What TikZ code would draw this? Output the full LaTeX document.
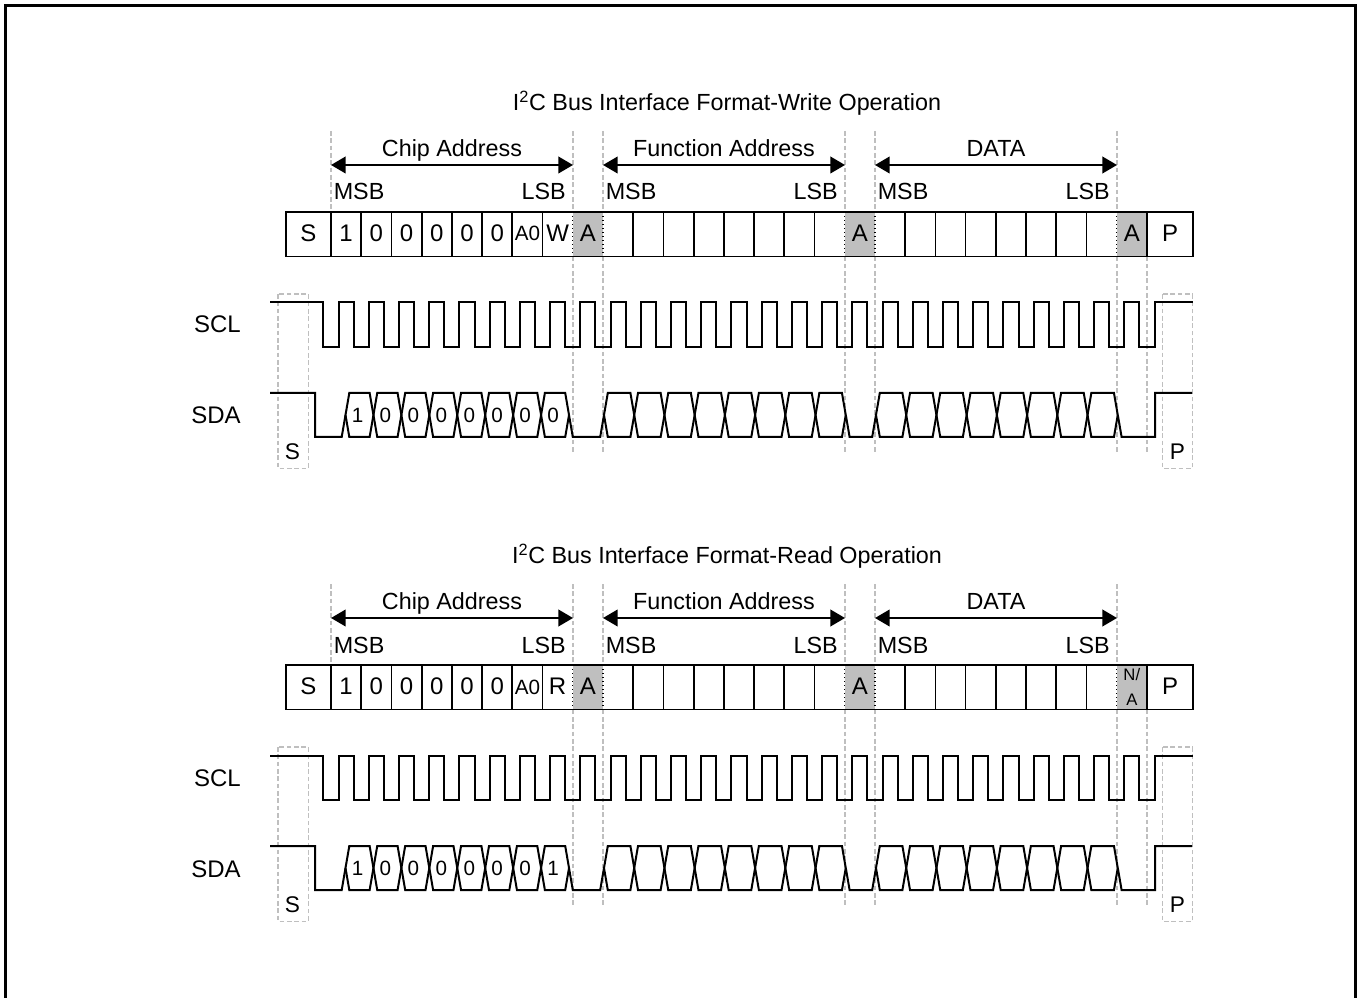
\documentclass[tikz,border=0pt]{standalone}
\usepackage{fontspec}
\setmainfont{Liberation Sans}
\usetikzlibrary{arrows.meta}

\begin{document}
\begin{tikzpicture}
  [x=0.75pt, y=-0.75pt,
  wave/.style={line width=1.5pt},
  regline/.style={line width=1.3pt},
  ackline/.style={line width=1pt, dotted},
  guide/.style={draw=black!25, line width=1pt, dash pattern=on 3.5pt off 2pt},
  ackfill/.style={fill=black!25},
  txt/.style={inner sep=0pt, font=\fontsize{17.5}{21}\selectfont},
  regtext/.style={inner sep=0pt, font=\fontsize{18}{21}\selectfont},
  pintext/.style={inner sep=0pt, font=\fontsize{15.5}{19}\selectfont},
  natext/.style={inner sep=0pt, align=center, font=\fontsize{12.5}{18.75}\selectfont},
  bittext/.style={inner sep=0pt, font=\fontsize{15.5}{18}\selectfont},
  marktext/.style={inner sep=0pt, font=\fontsize{17}{20}\selectfont},
  spanarrow/.style={line width=1.5pt, {Triangle[length=11pt,width=12.5pt]}-{Triangle[length=11pt,width=12.5pt]}}
  ]
  \useasboundingbox (0,0) rectangle (1361,998);
  \draw[line width=2pt] (5.5,1010) -- (5.5,5.5) -- (1355.5,5.5) -- (1355.5,1010);

  \foreach \op/\rw [count=\s from 0] in {Write/W, Read/R} {
    \begin{scope}[shift={(0,\s*453)}]
      \node[txt, anchor=base] (title\s) at (727,110.5) {I\textsuperscript{2}C Bus Interface Format-\op\ Operation};

      \foreach \gx in {331,573,603,845,875,1117} \draw[guide] (\gx,131) -- (\gx,212);
      \foreach \gx in {573,603,845,875,1117,1147} \draw[guide] (\gx,256.5) -- (\gx,453);

      \foreach \a/\b/\fld [count=\j] in {331/573/Chip Address, 603/845/Function Address, 875/1117/DATA} {
        \coordinate (left\s\j) at (\a,165);
        \coordinate (right\s\j) at (\b,165);
        \draw[spanarrow] (left\s\j) -- (right\s\j);
        \node[txt, anchor=base] (field\s\j) at ({(\a+\b)/2},156.7) {\fld};
        \node[txt, anchor=base west] (msb\s\j) at ({\a+2.5},200) {MSB};
        \node[txt, anchor=base east] (lsb\s\j) at ({\b-7},200) {LSB};
      }

      \foreach \k in {8,17,26} \fill[ackfill] ({331+\k*30.22},212) rectangle ({331+(\k+1)*30.22},256.5);
      \draw[regline] (286,212) rectangle (1193,256.5);
      \foreach \k in {0,1,2,3,4,5,6,7,10,11,12,13,14,15,16,19,20,21,22,23,24,25,27}
        \draw[regline] ({331+\k*30.22},212) -- ({331+\k*30.22},256.5);
      \foreach \k in {8,9,17,18,26}
        \draw[ackline] ({331+\k*30.22},212) -- ({331+\k*30.22},256.5);

      \node[regtext, anchor=base] (start\s) at (308.5,241.5) {S};
      \foreach \b [count=\k from 0] in {1,0,0,0,0,0}
        \node[regtext, anchor=base] (addr\s\k) at ({346.1+\k*30.22},241.5) {\b};
      \node[pintext, anchor=base] (pin\s) at ({346.1+6*30.22},241) {A0};
      \node[regtext, anchor=base] (rw\s) at ({346.1+7*30.22},241.5) {\rw};
      \node[regtext, anchor=base] (ackA\s) at ({346.1+8*30.22},241.5) {A};
      \node[regtext, anchor=base] (ackB\s) at ({346.1+17*30.22},241.5) {A};
      \ifnum\s=0
        \node[regtext, anchor=base] (ackC\s) at ({346.1+26*30.22},241.5) {A};
      \else
        \node[natext] (ackC\s) at ({346.1+26*30.22},234) {N/\\A};
      \fi
      \node[regtext, anchor=base] (stop\s) at (1170,241.5) {P};

      \node[regtext, anchor=base east] (scl\s) at (241,333) {SCL};
      \node[regtext, anchor=base east] (sda\s) at (241,424) {SDA};
      \draw[guide] (278,294) rectangle (308.3,468.3);
      \draw[guide] (1162.3,294) rectangle (1192.3,468.3);
      \node[marktext] (smark\s) at (292.5,451.7) {S};
      \node[marktext] (pmark\s) at (1177.5,451.7) {P};

      \draw[wave] (270,302.5) -| (323.4,347)
        foreach \k in {0,...,26} { -| ({338.56+\k*30.22},302.5) -| ({353.67+\k*30.22},347) }
        -| (1154.6,302.5) -- (1193,302.5);

      \draw[wave] (270,393) -- (315,393) -- (315,437) -- (341.7,437) -- (345.5,415);
      \draw[wave] (569,415) -- (572.8,437) -- (600.2,437) -- (604,415);
      \draw[wave] (845.8,415) -- (849.6,437) -- (872.2,437) -- (876,415);
      \draw[wave] (1117.8,415) -- (1121.6,437) -- (1155,437) -- (1155,393) -- (1192,393);
      \foreach \c/\w in {345.5/27.94, 604/30.22, 876/30.22}
        \foreach \k in {0,...,7}
          \draw[wave] ({\c+\k*\w},415) -- ({\c+\k*\w+3.8},393) -- ({\c+(\k+1)*\w-3.8},393)
            -- ({\c+(\k+1)*\w},415) -- ({\c+(\k+1)*\w-3.8},437) -- ({\c+\k*\w+3.8},437) -- cycle;

      \foreach \b [count=\k from 0] in {1,0,0,0,0,0,0}
        \node[bittext] (sbit\s\k) at ({357.5+\k*27.94},415) {\b};
      \node[bittext] (sbit\s7) at ({357.5+7*27.94},415) {\ifnum\s=0 0\else 1\fi};
    \end{scope}
  }
\end{tikzpicture}
\end{document}
